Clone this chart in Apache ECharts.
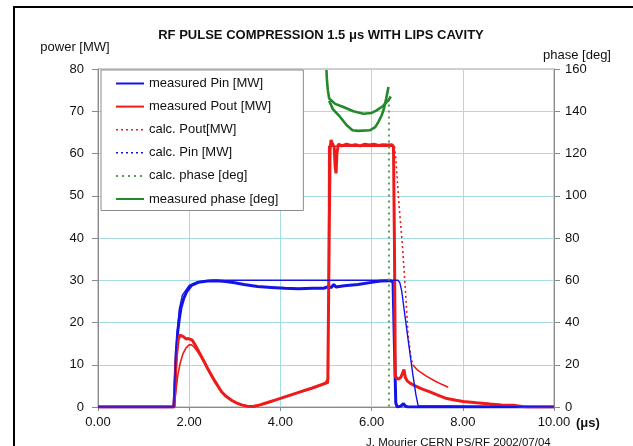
<!DOCTYPE html>
<html>
<head>
<meta charset="utf-8">
<script src="https://cdn.jsdelivr.net/npm/echarts@6/dist/echarts.min.js"></script>
<style>
html,body{margin:0;padding:0;background:#fff;}
#chart{width:633px;height:446px;}
</style>
</head>
<body>
<div id="chart"></div>
<script>
// ---- data (time in µs, power in MW, phase in deg) ----
const xTicks = [0, 2, 4, 6, 8, 10];
const measuredPin = [[0,0],[1.66,0],[1.68,3],[1.71,12],[1.75,18],[1.78,20.6],[1.82,23.5],[1.88,25.7],[1.95,27.4],[2.05,28.8],[2.2,29.5],[2.4,29.8],[2.6,29.9],[2.8,29.7],[3.0,29.4],[3.2,29.0],[3.5,28.5],[3.8,28.3],[4.1,28.1],[4.4,28.0],[4.7,28.1],[4.95,28.1],[5.05,28.5],[5.12,28.3],[5.17,29.0],[5.22,28.4],[5.4,28.7],[5.7,29.0],[6.0,29.5],[6.2,29.8],[6.4,29.9],[6.47,29.6],[6.5,15],[6.53,1],[6.56,0],[6.64,0.2],[6.7,0.8],[6.74,0.2],[6.8,0],[10,0]];
const measuredPout = [[0,0],[1.67,0],[1.69,6],[1.72,12],[1.76,16],[1.8,17],[1.84,17.3],[1.88,16.6],[1.93,16.1],[1.98,16.2],[2.02,16.4],[2.06,15.9],[2.13,14.7],[2.2,13.3],[2.27,11.9],[2.35,10.3],[2.42,8.8],[2.5,7.3],[2.57,6.0],[2.64,4.8],[2.71,3.6],[2.8,2.6],[2.93,1.6],[3.05,0.9],[3.15,0.5],[3.27,0.2],[3.4,0.1],[3.55,0.5],[3.7,1.0],[3.9,1.7],[4.1,2.4],[4.3,3.1],[4.5,3.8],[4.7,4.5],[4.9,5.3],[5.0,5.7],[5.04,6.5],[5.07,40],[5.09,61],[5.11,63.2],[5.14,62.3],[5.18,61.5],[5.2,57],[5.22,55.3],[5.24,60],[5.27,62.2],[5.35,61.8],[5.45,62.2],[5.55,61.9],[5.65,62.1],[5.75,61.8],[5.85,62.2],[5.95,62],[6.05,62.2],[6.15,61.9],[6.25,62.1],[6.35,62],[6.45,62.1],[6.48,61.5],[6.5,40],[6.52,7.2],[6.58,6.6],[6.64,7.0],[6.68,8],[6.71,8.9],[6.74,7.0],[6.78,6.2],[6.85,5.6],[6.92,5.2],[7.1,4.3],[7.28,3.6],[7.45,2.8],[7.65,2.0],[7.85,1.6],[8.01,1.3],[8.3,1.0],[8.6,0.7],[8.85,0.5],[9.1,0.4],[9.3,0.1],[9.4,0],[10,0]];
const calcPoutRise = [[0,0],[1.67,0],[1.7,3],[1.75,7.5],[1.8,10.3],[1.86,12.5],[1.93,14],[2.0,14.7],[2.05,14.7],[2.1,14.3],[2.17,13.3],[2.27,11.7],[2.42,8.6],[2.57,5.8],[2.71,3.5],[2.93,1.5],[3.15,0.4],[3.35,0],[3.45,0.1],[3.7,0.9],[4.2,2.7],[4.7,4.4],[5.0,5.5],[5.05,5.7],[5.06,61.7],[6.5,61.7]];
const calcPoutFall = [[6.5,61.7],[6.53,59],[6.6,48],[6.67,39],[6.74,28],[6.8,17],[6.86,12],[6.9,10]];
const calcPoutTail = [[6.9,10],[7.0,8.8],[7.2,7.3],[7.4,6.1],[7.55,5.3],[7.68,4.7]];
const calcPin = [[0,0],[1.66,0],[1.68,5],[1.72,15],[1.78,23],[1.85,26.5],[2.0,28.8],[2.2,29.7],[2.5,30],[6.58,30],[6.62,29.4],[6.66,27.5],[6.72,22.5],[6.8,16],[6.9,8],[6.97,3],[7.02,0.3],[7.05,0],[10,0]];
const calcPhase = [[6.38,146],[6.38,0]];
const measuredPhaseA = [[5.01,159.5],[5.02,155],[5.04,150],[5.07,146],[5.2,143.5],[5.38,142],[5.6,140],[5.82,138.8],[6.0,139.2],[6.11,140.4],[6.25,142.5],[6.37,145.2],[6.42,147]];
const measuredPhaseB = [[5.07,145],[5.15,141],[5.31,137.3],[5.45,133.5],[5.58,131],[5.7,130.7],[5.96,131],[6.08,132.5],[6.15,135],[6.22,138],[6.27,141.2],[6.32,146],[6.37,151.5]];

const BLUE = '#1414e6', RED = '#ee1b1b', GREEN = '#23892a', GREEN2 = '#5a9a5a';
const FONT = 'Liberation Sans, Arial, sans-serif';
const GRID = '#a6dde4', AXIS = '#8a8a8a';

const chart = echarts.init(document.getElementById('chart'), null, {renderer:'canvas'});
chart.setOption({
  animation:false,
  backgroundColor:'#fff',
  textStyle:{fontFamily:FONT},
  grid:{left:98, right:79, top:69, bottom:39, show:true, borderColor:'#a0a0a0', borderWidth:1, backgroundColor:'#fff'},
  xAxis:{type:'value', min:0, max:10, interval:2,
    axisLine:{show:true, lineStyle:{color:AXIS, width:1}},
    axisTick:{show:true, length:4, lineStyle:{color:AXIS}},
    splitLine:{show:true, lineStyle:{color:GRID, width:1}},
    axisLabel:{formatter:v=>xTicks.includes(v)?v.toFixed(2):'', fontSize:13, color:'#111', margin:9, fontFamily:FONT}
  },
  yAxis:[
    {type:'value', min:0, max:80, interval:10,
      axisLine:{show:true, lineStyle:{color:AXIS}},
      axisTick:{show:true, length:6, lineStyle:{color:AXIS}},
      splitLine:{show:true, lineStyle:{color:GRID}},
      axisLabel:{fontSize:13, color:'#111', margin:14, fontFamily:FONT}},
    {type:'value', min:0, max:160, interval:20, position:'right',
      axisLine:{show:true, lineStyle:{color:AXIS}},
      axisTick:{show:true, length:6, lineStyle:{color:AXIS}},
      splitLine:{show:false},
      axisLabel:{fontSize:13, color:'#111', margin:11, fontFamily:FONT}}
  ],
  legend:{
    orient:'vertical', left:101, top:70,
    backgroundColor:'#fff', borderColor:'#8c8c8c', borderWidth:1,
    padding:[7,25,5,14], itemWidth:28, itemHeight:14, itemGap:10.1,
    itemStyle:{opacity:0},
    textStyle:{fontSize:13, color:'#111', fontFamily:FONT},
    data:[
      {name:'measured Pin [MW]'},
      {name:'measured Pout [MW]'},
      {name:'calc. Pout[MW]', lineStyle:{type:[2,3], width:1.5}},
      {name:'calc. Pin [MW]', lineStyle:{type:[2,3], width:1.5}},
      {name:'calc. phase [deg]'},
      {name:'measured phase [deg]'}
    ]
  },
  graphic:[
    {type:'rect', shape:{x:14, y:7, width:700, height:500}, style:{fill:'none', stroke:'#000', lineWidth:2}, silent:true},
    {type:'text', x:321, y:35, style:{text:'RF PULSE COMPRESSION 1.5 μs WITH LIPS CAVITY', font:'bold 13px Liberation Sans, Arial, sans-serif', fill:'#111', textAlign:'center', textVerticalAlign:'middle'}},
    {type:'text', x:75, y:47, style:{text:'power [MW]', font:'13px Liberation Sans, Arial, sans-serif', fill:'#111', textAlign:'center', textVerticalAlign:'middle'}},
    {type:'text', x:577, y:55, style:{text:'phase [deg]', font:'13px Liberation Sans, Arial, sans-serif', fill:'#111', textAlign:'center', textVerticalAlign:'middle'}},
    {type:'text', x:576, y:423, style:{text:'(μs)', font:'bold 13px Liberation Sans, Arial, sans-serif', fill:'#111', textAlign:'left', textVerticalAlign:'middle'}},
    {type:'text', x:366, y:437, style:{text:'J. Mourier CERN PS/RF 2002/07/04', font:'11.5px Liberation Sans, Arial, sans-serif', fill:'#111', textAlign:'left', textVerticalAlign:'top'}}
  ],
  series:[
    {name:'measured Pin [MW]', type:'line', data:measuredPin, showSymbol:false, symbol:'none', lineStyle:{color:BLUE, width:3}, itemStyle:{color:BLUE}},
    {name:'measured Pout [MW]', type:'line', data:measuredPout, showSymbol:false, symbol:'none', lineStyle:{color:RED, width:3}, itemStyle:{color:RED}},
    {name:'calc. Pout[MW]', type:'line', data:calcPoutRise, showSymbol:false, symbol:'none', lineStyle:{color:RED, width:1.6}, itemStyle:{color:RED}},
    {name:'calc. Pout[MW]', type:'line', data:calcPoutFall, showSymbol:false, symbol:'none', lineStyle:{color:RED, width:1.6, type:[2,3]}, itemStyle:{color:RED}},
    {name:'calc. Pout[MW]', type:'line', data:calcPoutTail, showSymbol:false, symbol:'none', lineStyle:{color:RED, width:1.6}, itemStyle:{color:RED}},
    {name:'calc. Pin [MW]', type:'line', data:calcPin, showSymbol:false, symbol:'none', lineStyle:{color:BLUE, width:1.4}, itemStyle:{color:BLUE}},
    {name:'calc. phase [deg]', type:'line', yAxisIndex:1, data:calcPhase, showSymbol:false, symbol:'none', lineStyle:{color:GREEN2, width:2, type:[2,4]}, itemStyle:{color:GREEN2}},
    {name:'measured phase [deg]', type:'line', yAxisIndex:1, data:measuredPhaseA, showSymbol:false, symbol:'none', lineStyle:{color:GREEN, width:2.6}, itemStyle:{color:GREEN}},
    {name:'measured phase [deg]', type:'line', yAxisIndex:1, data:measuredPhaseB, showSymbol:false, symbol:'none', lineStyle:{color:GREEN, width:2.6}, itemStyle:{color:GREEN}}
  ]
});
</script>
</body>
</html>
